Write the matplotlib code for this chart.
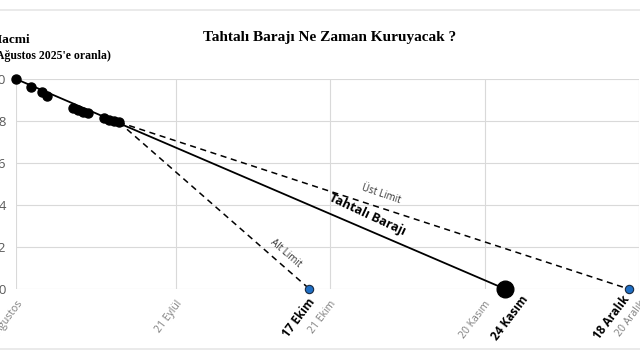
import matplotlib
matplotlib.use("Agg")
import matplotlib.pyplot as plt
from matplotlib.lines import Line2D

# Data: days since 21 Ağustos 2025, relative volume
obs_days = [0, 3, 5, 6, 11, 12, 13, 14, 17, 18, 19, 20]
obs_vals = [1.0, 0.960, 0.937, 0.919, 0.863, 0.852, 0.843, 0.837, 0.814, 0.806, 0.800, 0.794]

trend_days = [0, 95]
trend_vals = [1.0, 0.0]

alt_days = [20, 57]
alt_vals = [0.794, 0.0]
ust_days = [20, 119]
ust_vals = [0.794, 0.0]

tick_days = [0, 31, 61, 91, 121]
tick_labels = ["21 Ağustos", "21 Eylül", "21 Ekim", "20 Kasım", "20 Aralık"]
ytick_vals = [0.0, 0.2, 0.4, 0.6, 0.8, 1.0]
ytick_labels = ["0,0", "0,2", "0,4", "0,6", "0,8", "1,0"]

end_days = [57, 95, 119]
end_labels = ["17 Ekim", "24 Kasım", "18 Aralık"]

fig = plt.figure(figsize=(6.4, 3.6), dpi=100)
ax = fig.add_axes([16/640, 71/360, (639-16)/640, 210/360])

grid_c = "#d9d9d9"
ax.set_xlim(0, 121)
ax.set_ylim(0, 1.0)
for s in ax.spines.values():
    s.set_visible(False)
ax.set_xticks(tick_days)
ax.set_xticklabels(tick_labels, rotation=53, ha="right", va="top", rotation_mode="anchor",
                   color="#7f7f7f", fontsize=7.5, family="Open Sans")
ax.set_yticks(ytick_vals)
ax.set_yticklabels(ytick_labels, color="#595959", fontsize=9.5, family="Open Sans")
ax.tick_params(length=0)
ax.tick_params(axis="y", pad=7)
ax.tick_params(axis="x", pad=7)
ax.grid(True, color=grid_c, lw=0.8)
ax.set_axisbelow(True)

# trend and limits
ax.plot(trend_days, trend_vals, color="black", lw=1.3, zorder=3)
ax.plot(alt_days, alt_vals, color="black", lw=1.1, ls=(0, (4, 3)), zorder=3)
ax.plot(ust_days, ust_vals, color="black", lw=1.1, ls=(0, (4, 3)), zorder=3)
ax.plot(obs_days, obs_vals, "o", color="black", ms=6.5, zorder=4, clip_on=False)
ax.plot([trend_days[1]], [0], "o", color="black", ms=12, zorder=5, clip_on=False)
ax.plot([alt_days[1], ust_days[1]], [0, 0], "o", color="#1f6fc5", mec="#1a2a40",
        mew=0.8, ms=6, zorder=5, clip_on=False)

offsets = [(-1.5, -5), (11, -3), (-5, -3)]
for d, lab, off in zip(end_days, end_labels, offsets):
    ax.annotate(lab, xy=(d, 0), xytext=off, textcoords="offset points",
                rotation=53, ha="right", va="top", rotation_mode="anchor",
                fontsize=8.5, fontweight="bold", family="Open Sans", color="black")

ax.text(68.2, 0.352, "Tahtalı Barajı", rotation=-25, ha="center", va="center",
        fontsize=9, fontweight="bold", family="Open Sans", rotation_mode="anchor")
ax.text(70.9, 0.45, "Üst Limit", rotation=-19, ha="center", va="center",
        fontsize=7, family="Open Sans", color="#333333", rotation_mode="anchor")
ax.text(52.4, 0.17, "Alt Limit", rotation=-41, ha="center", va="center",
        fontsize=7, family="Open Sans", color="#333333", rotation_mode="anchor")

fig.text(330/640, 1 - 38/360, "Tahtalı Barajı Ne Zaman Kuruyacak ?", ha="center", va="center",
         fontsize=11, fontweight="bold", family="Liberation Serif")
fig.text(30/640, 1 - 40/360, "Baraj Hacmi", ha="right", va="center",
         fontsize=9.5, fontweight="bold", family="Liberation Serif")
fig.text(111/640, 1 - 56/360, "(Ağustos 2025'e oranla)", ha="right", va="center",
         fontsize=8.5, fontweight="bold", family="Liberation Serif")

for yy in (10, 349):
    fig.add_artist(Line2D([0, 1], [1 - yy/360, 1 - yy/360], transform=fig.transFigure,
                          color="#e6e6e6", lw=1.2))

fig.savefig("out.png", dpi=100)
